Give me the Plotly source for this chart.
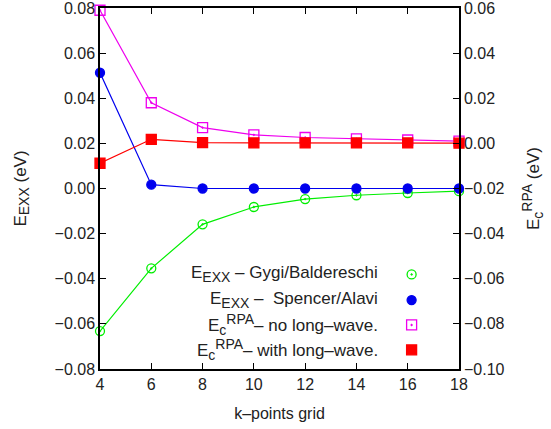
import plotly.graph_objects as go

k = [4, 6, 8, 10, 12, 14, 16, 18]
exx_gygi = [-0.0632, -0.0354, -0.0159, -0.0082, -0.0047, -0.0030, -0.0020, -0.0012]
exx_spencer = [0.0513, 0.0017, 0.0000, 0.0000, 0.0000, 0.0000, 0.0000, 0.0000]
ec_no_lw = [0.0590, 0.0180, 0.0070, 0.0038, 0.0026, 0.0020, 0.0015, 0.0010]
ec_with_lw = [-0.0088, 0.0018, 0.0003, 0.0002, 0.0002, 0.0002, 0.0002, 0.0001]

SUBF = "<span style='font-size:14px'>%s</span>"
legend_labels = [
    "E<sub>" + SUBF % "EXX" + "</sub> – Gygi/Baldereschi",
    "E<sub>" + SUBF % "EXX" + "</sub> –  Spencer/Alavi",
    "E<sub>" + SUBF % "c" + "</sub><sup>" + SUBF % "RPA" + "</sup>– no long–wave.",
    "E<sub>" + SUBF % "c" + "</sub><sup>" + SUBF % "RPA" + "</sup>– with long–wave.",
]
legend_y = [0.262, 0.191, 0.122, 0.053]

FONT = "Liberation Sans, Arial, sans-serif"
TXT = "#222222"

styles = [
    dict(color="#00ee00", symbol="circle-open-dot", size=9, yaxis="y"),
    dict(color="#0000ee", symbol="circle", size=9, yaxis="y"),
    dict(color="#ee00ee", symbol="square-open-dot", size=10, yaxis="y2"),
    dict(color="#ff0000", symbol="square", size=10, yaxis="y2"),
]
series = [exx_gygi, exx_spencer, ec_no_lw, ec_with_lw]

fig = go.Figure()
for vals, st in zip(series, styles):
    fig.add_trace(go.Scatter(
        x=k, y=vals, mode="lines+markers", yaxis=st["yaxis"],
        line=dict(color=st["color"], width=1.2),
        marker=dict(color=st["color"], symbol=st["symbol"], size=st["size"],
                    line=dict(color=st["color"], width=1.3)),
        cliponaxis=False, showlegend=False,
    ))

# legend symbols on an overlay axis in paper-like coordinates
for yy, st in zip(legend_y, styles):
    fig.add_trace(go.Scatter(
        x=[0.868], y=[yy], mode="markers", xaxis="x3", yaxis="y3",
        marker=dict(color=st["color"], symbol=st["symbol"], size=st["size"],
                    line=dict(color=st["color"], width=1.3)),
        cliponaxis=False, showlegend=False, hoverinfo="skip",
    ))

annotations = []
for yy, lab in zip(legend_y, legend_labels):
    annotations.append(dict(
        x=0.78, y=yy, xref="paper", yref="paper", text=lab, showarrow=False,
        xanchor="right", yanchor="middle", font=dict(family=FONT, size=17, color=TXT),
    ))

axis_common = dict(showgrid=False, zeroline=False, showline=True, linecolor="black",
                   linewidth=1.5, ticks="inside", ticklen=6, tickcolor="black",
                   automargin=False, ticklabeloverflow="allow",
                   tickfont=dict(family=FONT, size=16, color=TXT))

fig.update_layout(
    width=551, height=429,
    margin=dict(l=100, r=92, t=8, b=60, autoexpand=False),
    paper_bgcolor="white", plot_bgcolor="white",
    font=dict(family=FONT, color=TXT),
    xaxis=dict(range=[4, 18], dtick=2, tick0=4, mirror="ticks",
               title=dict(text="k–points grid", font=dict(family=FONT, size=16, color=TXT), standoff=16),
               **axis_common),
    yaxis=dict(range=[-0.08, 0.08], dtick=0.02, tickformat=".2f",
               title=dict(text="E<sub>" + SUBF % "EXX" + "</sub> (eV)", font=dict(family=FONT, size=17, color=TXT), standoff=24),
               **axis_common),
    yaxis2=dict(range=[-0.10, 0.06], dtick=0.02, tickformat=".2f", overlaying="y", side="right",
                title=dict(text="E<sub>" + SUBF % "c" + "</sub><sup>" + SUBF % "RPA" + "</sup> (eV)", font=dict(family=FONT, size=17, color=TXT), standoff=24),
                **axis_common),
    xaxis3=dict(domain=[0, 1], range=[0, 1], visible=False, overlaying="x"),
    yaxis3=dict(domain=[0, 1], range=[0, 1], visible=False, overlaying="y"),
    annotations=annotations,
)

fig.write_html("out.html", config={"displayModeBar": False},
               post_script="document.body.style.margin='0';")
